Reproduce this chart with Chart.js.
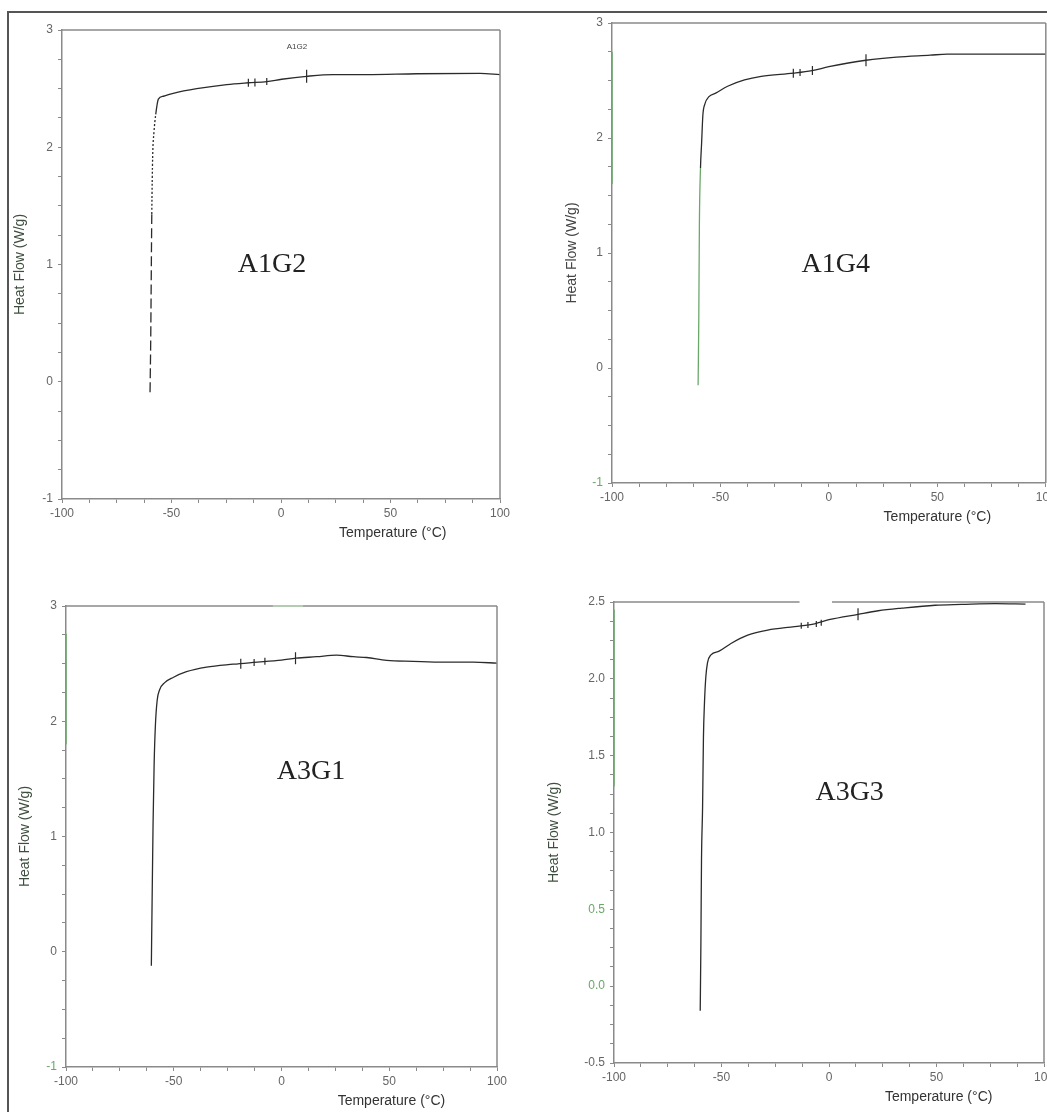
<!DOCTYPE html>
<html><head><meta charset="utf-8">
<script src="https://cdn.jsdelivr.net/npm/chart.js@4.4.0/dist/chart.umd.min.js"></script>
<style>
html,body{margin:0;padding:0;background:#fff;width:1047px;height:1112px;overflow:hidden}
#frame{position:absolute;left:7px;top:11px;width:1045px;height:1110px;border-top:2px solid #555;border-left:2px solid #555;}
canvas{position:absolute}
</style></head><body>
<div id="frame"></div>
<canvas id="c1" width="523" height="556" style="left:0px;top:0px"></canvas>
<canvas id="c2" width="530" height="556" style="left:523px;top:0px"></canvas>
<canvas id="c3" width="523" height="556" style="left:0px;top:556px"></canvas>
<canvas id="c4" width="530" height="556" style="left:523px;top:556px"></canvas>
<script>
// ---------- data (temperature °C, heat flow W/g) ----------
const A1G2_temp = [-59.8, -59.5, -59.0, -58.6, -58.0, -57.2, -56.0, -53.7, -49.2, -38.5, -24.8, -14.9, -6.5, 0.3, 11.7, 23.9, 39.1, 62.0, 90.9, 100];
const A1G2_heat = [-0.09, 0.34, 1.43, 1.92, 2.13, 2.28, 2.41, 2.435, 2.46, 2.50, 2.535, 2.55, 2.56, 2.58, 2.605, 2.62, 2.62, 2.627, 2.63, 2.62];
const A1G2_markTemp = [-14.9, -11.9, -6.5, 11.7];
const A1G2_markHeat = [2.55, 2.553, 2.56, 2.605];

const A1G4_temp = [-60.3, -60.0, -59.7, -59.2, -58.7, -58.1, -57.2, -55.3, -52.2, -46.7, -38.9, -31.2, -16.4, -7.8, 0, 17.1, 31.2, 46.7, 54.5, 77.9, 100];
const A1G4_heat = [-0.149, 0.40, 1.27, 1.74, 1.95, 2.20, 2.295, 2.36, 2.39, 2.45, 2.505, 2.536, 2.564, 2.586, 2.62, 2.676, 2.704, 2.72, 2.729, 2.729, 2.729];
const A1G4_markTemp = [-16.4, -13.3, -7.6, 17.1];
const A1G4_markHeat = [2.564, 2.57, 2.586, 2.676];

const A3G1_temp = [-60.4, -60.1, -59.6, -59.1, -58.5, -57.7, -56.5, -54.2, -50.3, -44.1, -34.8, -22.4, -13.2, 0, 6.7, 16.3, 25.5, 33.3, 39.5, 48.8, 61.1, 75.1, 89, 100];
const A3G1_heat = [-0.122, 0.35, 1.11, 1.63, 1.97, 2.18, 2.275, 2.335, 2.38, 2.43, 2.47, 2.495, 2.51, 2.53, 2.547, 2.56, 2.574, 2.56, 2.553, 2.528, 2.52, 2.513, 2.513, 2.504];
const A3G1_markTemp = [-18.9, -12.7, -7.7, 6.5];
const A3G1_markHeat = [2.50, 2.51, 2.52, 2.547];

const A3G3_temp = [-59.9, -59.6, -59.3, -58.8, -58.4, -57.9, -57.3, -56.5, -54.9, -51.1, -45.6, -37.8, -28.5, -16, -6.7, 0, 13.5, 22.9, 33.8, 49.3, 61.8, 77.4, 91.4];
const A3G3_heat = [-0.16, 0.248, 0.82, 1.165, 1.62, 1.85, 2.01, 2.105, 2.156, 2.18, 2.23, 2.284, 2.317, 2.34, 2.358, 2.385, 2.42, 2.443, 2.46, 2.479, 2.484, 2.489, 2.486];
const A3G3_markTemp = [-12.9, -9.8, -5.9, -3.6, 13.5];
const A3G3_markHeat = [2.345, 2.35, 2.357, 2.365, 2.42];

// axis ranges / tick labels
const xRange = [-100, 100];
const xMajorLabels = [-100, -50, 0, 50, 100];
const yRangeA = [-1, 3];
const yMajorLabelsA = [-1, 0, 1, 2, 3];
const yRangeB = [-0.5, 2.5];
const yMajorLabelsB = [-0.5, 0.0, 0.5, 1.0, 1.5, 2.0, 2.5];

// ---------- helpers ----------
const SANS = '"Liberation Sans", Arial, sans-serif';
const SERIF = '"Liberation Serif", "Times New Roman", serif';
Chart.defaults.font.family = SANS;
Chart.defaults.font.size = 12;
const AXIS = '#8a8a8a', TICKTXT = '#666', GREEN = '#6aa86a';

function pts(xs, ys){ return xs.map((x,i)=>({x:x, y:ys[i]})); }

const deco = {
  id: 'deco',
  afterDraw(chart, args, o) {
    const ctx = chart.ctx, a = chart.chartArea, xs = chart.scales.x, ys = chart.scales.y;
    ctx.save();
    ctx.lineWidth = 1.5; ctx.strokeStyle = AXIS;
    ctx.beginPath();
    if (o.topGap) {
      ctx.moveTo(a.left, a.top); ctx.lineTo(xs.getPixelForValue(o.topGap[0]), a.top);
      ctx.moveTo(xs.getPixelForValue(o.topGap[1]), a.top); ctx.lineTo(a.right, a.top);
    } else { ctx.moveTo(a.left, a.top); ctx.lineTo(a.right, a.top); }
    ctx.moveTo(a.right, a.top); ctx.lineTo(a.right, a.bottom);
    ctx.stroke();
    if (o.greenAxis) {
      ctx.strokeStyle = GREEN; ctx.beginPath();
      ctx.moveTo(a.left, ys.getPixelForValue(o.greenAxis[0]));
      ctx.lineTo(a.left, ys.getPixelForValue(o.greenAxis[1]));
      ctx.stroke();
    }
    if (o.greenTop) {
      ctx.strokeStyle = '#b8d8b8'; ctx.beginPath();
      ctx.moveTo(xs.getPixelForValue(o.greenTop[0]), a.top);
      ctx.lineTo(xs.getPixelForValue(o.greenTop[1]), a.top);
      ctx.stroke();
    }
    ctx.textAlign = 'center'; ctx.textBaseline = 'middle';
    ctx.font = '14px ' + SANS; ctx.fillStyle = '#333';
    ctx.fillText('Temperature (°C)', xs.getPixelForValue(o.xTitleAt), a.bottom + 34);
    ctx.save();
    ctx.translate(a.left + o.yTitleOffset, (a.top + a.bottom) / 2);
    ctx.rotate(-Math.PI / 2);
    ctx.fillStyle = o.yTitleColor;
    ctx.fillText('Heat Flow (W/g)', 0, 0);
    ctx.restore();
    (o.labels || []).forEach(l => {
      ctx.font = l.font; ctx.fillStyle = l.color || '#222';
      ctx.fillText(l.text, xs.getPixelForValue(l.x), ys.getPixelForValue(l.y));
    });
    ctx.restore();
  }
};

function makeChart(id, cfg) {
  const mainDs = {
    type: 'line',
    data: pts(cfg.temp, cfg.heat),
    borderColor: '#2b2b2b', borderWidth: 1.3, pointRadius: 0,
    cubicInterpolationMode: 'monotone', fill: false,
    segment: cfg.segment || {}
  };
  const markDs = {
    type: 'scatter',
    data: pts(cfg.markTemp, cfg.markHeat),
    showLine: false, pointStyle: 'line', rotation: 90,
    pointRadius: cfg.markRadius, borderColor: '#2b2b2b', borderWidth: 1.2
  };
  const major = cfg.yMajor;
  return new Chart(document.getElementById(id), {
    type: 'line',
    data: { datasets: [mainDs, markDs] },
    plugins: [deco],
    options: {
      responsive: false, animation: false, devicePixelRatio: 1,
      layout: { padding: { left: 0, top: cfg.pt, right: cfg.pr, bottom: 0 } },
      plugins: { legend: { display: false }, tooltip: { enabled: false }, deco: cfg.deco },
      scales: {
        x: {
          type: 'linear', min: xRange[0], max: xRange[1],
          afterFit: s => { s.height = cfg.xh; s.paddingLeft = 0; s.paddingRight = 0; },
          border: { display: true, color: AXIS, width: 1.5 },
          grid: { drawOnChartArea: false, drawTicks: true, tickLength: 4, color: AXIS, lineWidth: 1 },
          ticks: {
            stepSize: 12.5, autoSkip: false, maxRotation: 0, padding: 3, color: TICKTXT,
            callback: v => xMajorLabels.includes(v) ? String(v) : ''
          }
        },
        y: {
          type: 'linear', min: cfg.yRange[0], max: cfg.yRange[1],
          afterFit: s => { s.width = cfg.yw; s.paddingTop = 0; s.paddingBottom = 0; },
          border: { display: true, color: AXIS, width: 1.5 },
          grid: { drawOnChartArea: false, drawTicks: true, tickLength: 4, color: AXIS, lineWidth: 1 },
          ticks: {
            stepSize: cfg.yStep, autoSkip: false, padding: 5,
            color: c => (cfg.greenTicks || []).some(g => Math.abs(g - c.tick.value) < 1e-9) ? GREEN : TICKTXT,
            callback: v => major.some(m => Math.abs(m - v) < 1e-9) ? (cfg.yDec ? v.toFixed(1) : String(v)) : ''
          }
        }
      }
    }
  });
}

makeChart('c1', {
  temp: A1G2_temp, heat: A1G2_heat, markTemp: A1G2_markTemp, markHeat: A1G2_markHeat,
  markRadius: [4, 4, 3.5, 6.5],
  pt: 30, pr: 23, xh: 57, yw: 62,
  yRange: yRangeA, yStep: 0.25, yMajor: yMajorLabelsA,
  segment: { borderDash: c => (c.p1.parsed.y < 1.9 ? [10, 4] : (c.p1.parsed.y < 2.4 ? [2, 2] : undefined)) },
  deco: {
    xTitleAt: 51, yTitleOffset: -42, yTitleColor: '#3f4f3f',
    labels: [
      { text: 'A1G2', x: -4.1, y: 1.0, font: '28px ' + SERIF },
      { text: 'A1G2', x: 7.3, y: 2.86, font: '8px ' + SANS, color: '#444' }
    ]
  }
});

makeChart('c2', {
  temp: A1G4_temp, heat: A1G4_heat, markTemp: A1G4_markTemp, markHeat: A1G4_markHeat,
  markRadius: [4.5, 3.5, 4.5, 6],
  pt: 23, pr: 7, xh: 73, yw: 89,
  yRange: yRangeA, yStep: 0.25, yMajor: yMajorLabelsA, greenTicks: [-1],
  segment: { borderColor: c => (c.p1.parsed.y < 1.9 ? GREEN : undefined) },
  deco: {
    xTitleAt: 50, yTitleOffset: -40, yTitleColor: '#444', greenAxis: [2.75, 1.6],
    labels: [ { text: 'A1G4', x: 3.2, y: 0.9, font: '28px ' + SERIF } ]
  }
});

makeChart('c3', {
  temp: A3G1_temp, heat: A3G1_heat, markTemp: A3G1_markTemp, markHeat: A3G1_markHeat,
  markRadius: [5, 3.5, 3.5, 6],
  pt: 50, pr: 26, xh: 45, yw: 66,
  yRange: yRangeA, yStep: 0.25, yMajor: yMajorLabelsA, greenTicks: [-1],
  deco: {
    xTitleAt: 51, yTitleOffset: -41, yTitleColor: '#3f4f3f', greenAxis: [2.76, 1.8], greenTop: [-4, 10],
    labels: [ { text: 'A3G1', x: 13.7, y: 1.56, font: '28px ' + SERIF } ]
  }
});

makeChart('c4', {
  temp: A3G3_temp, heat: A3G3_heat, markTemp: A3G3_markTemp, markHeat: A3G3_markHeat,
  markRadius: [3, 3, 3, 3, 6],
  pt: 46, pr: 9, xh: 49, yw: 91,
  yRange: yRangeB, yStep: 0.125, yMajor: yMajorLabelsB, yDec: true, greenTicks: [0.5, 0.0],
  deco: {
    xTitleAt: 51, yTitleOffset: -60, yTitleColor: '#3f4f3f', greenAxis: [2.45, 1.3], topGap: [-13.7, 1.4],
    labels: [ { text: 'A3G3', x: 9.6, y: 1.257, font: '28px ' + SERIF } ]
  }
});
</script>
</body></html>
